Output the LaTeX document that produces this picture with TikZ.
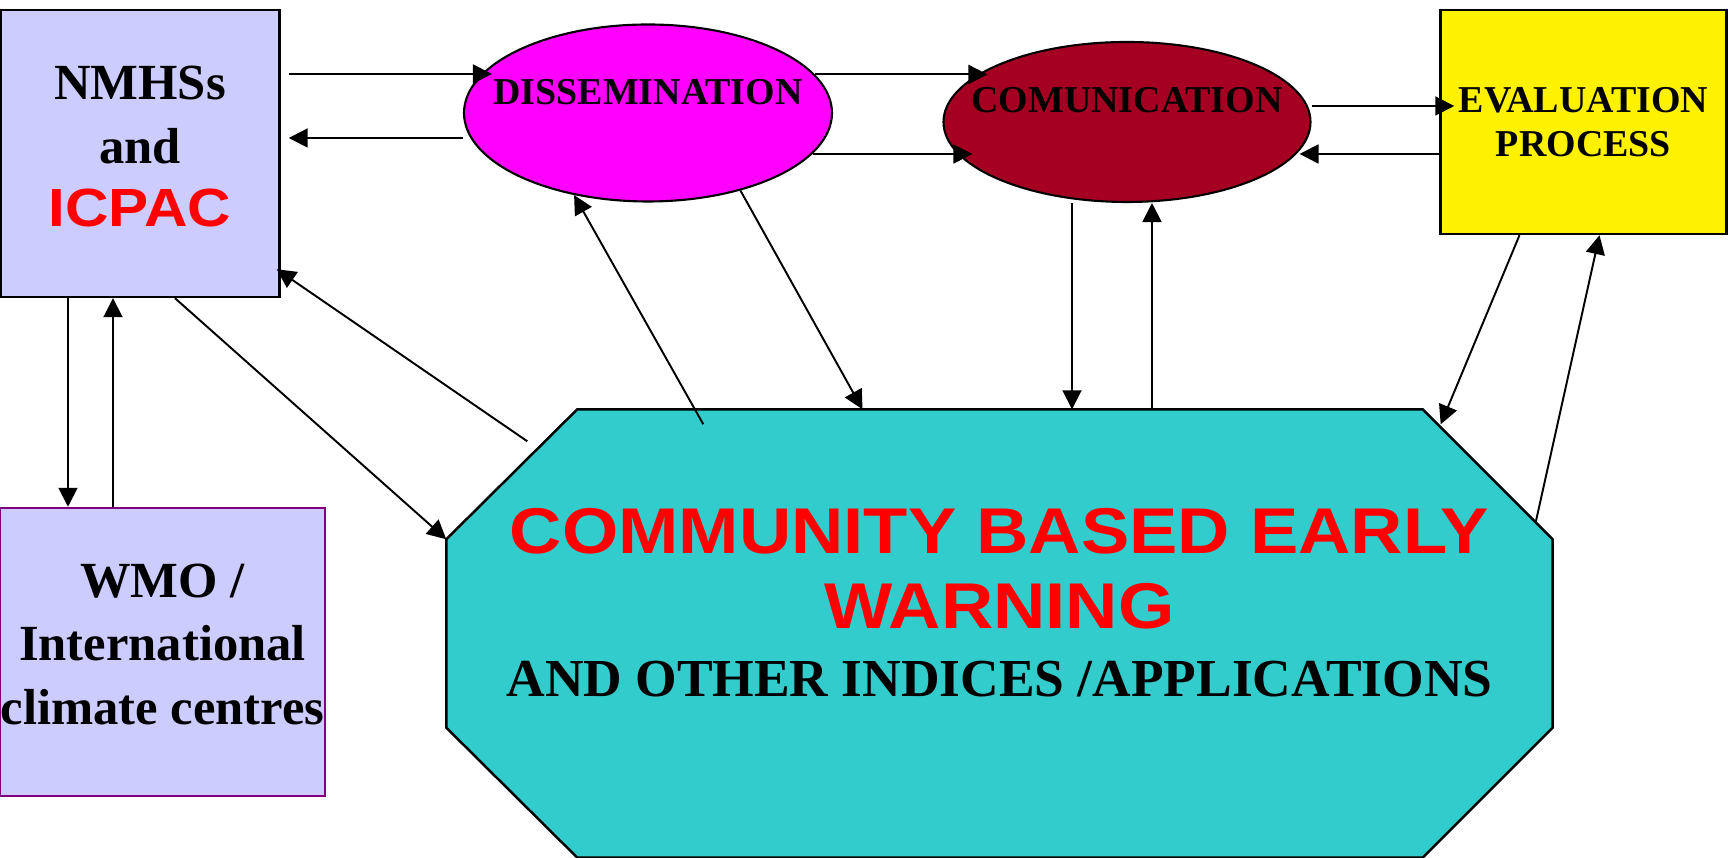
\documentclass[tikz,border=0pt]{standalone}
\usepackage{fontspec}
\setmainfont{Liberation Serif}
\newfontfamily\redsans{Liberation Sans}[FakeStretch=1.12]
\usepackage{tikz}
\usetikzlibrary{arrows.meta,shapes.geometric,backgrounds}
\definecolor{lavender}{HTML}{CCCCFF}
\definecolor{wmoborder}{HTML}{800080}
\definecolor{dissfill}{HTML}{FF00FF}
\definecolor{commfill}{HTML}{A50021}
\definecolor{cbewfill}{HTML}{33CCCC}
\newcommand{\redword}[2]{{\redsans\color{red}\fontsize{#1}{#1}\selectfont #2}}
\tikzset{
  box/.style={rectangle, draw, line width=0.7pt, inner sep=0pt, align=center, font=\bfseries\fontsize{14.4}{18}\selectfont},
  oval/.style={ellipse, draw, line width=0.6pt, inner sep=0pt},
  ovaltext/.style={font=\bfseries\fontsize{10.8}{12.6}\selectfont},
  cbbox/.style={rectangle, inner sep=0pt, minimum width=11.05cm, minimum height=4.47cm},
  cbtext/.style={align=center, font=\bfseries\fontsize{15.2}{19.3}\selectfont},
  fwd/.style={-{Triangle[length=1.9mm, width=1.9mm]}, line width=0.55pt},
}
\begin{document}
\begin{tikzpicture}
  \useasboundingbox (0,0) rectangle (17.28,8.58);

  \node[box, fill=lavender, text depth=1.4mm, minimum width=2.79cm, minimum height=2.87cm] (nmhs) at (1.40,7.045) {NMHSs\\and\\\redword{15.3}{ICPAC}};
  \node[box, fill=lavender, draw=wmoborder, text depth=1.6mm, minimum width=3.25cm, minimum height=2.88cm] (wmo) at (1.625,2.06) {WMO /\\International\\climate centres};
  \node[box, ovaltext, fill=yellow, minimum width=2.86cm, minimum height=2.24cm] (evalbox) at (15.835,7.36) {EVALUATION\\PROCESS};
  \node[oval, fill=dissfill, minimum width=3.68cm, minimum height=1.77cm, label={[ovaltext, yshift=2.1mm]center:DISSEMINATION}] (diss) at (6.48,7.45) {};
  \node[oval, fill=commfill, minimum width=3.67cm, minimum height=1.60cm, label={[ovaltext, yshift=2.2mm]center:COMUNICATION}] (comm) at (11.27,7.36) {};
  \node[cbbox, label={[cbtext, yshift=3.1mm]center:{\redword{18.4}{COMMUNITY BASED EARLY}\\[2.2pt]\redword{18.4}{WARNING}\\AND OTHER INDICES /APPLICATIONS}}] (cbew) at (9.995,2.245) {};

  \begin{scope}[on background layer] % octagon behind its text
    \filldraw[fill=cbewfill, line width=0.7pt] ([xshift=13.1mm]cbew.north west) -- ([xshift=-13mm]cbew.north east) -- ([yshift=-13mm]cbew.north east) -- ([yshift=13mm]cbew.south east) -- ([xshift=-13mm]cbew.south east) -- ([xshift=13.1mm]cbew.south west) -- ([yshift=13mm]cbew.south west) -- ([yshift=-13mm]cbew.north west) -- cycle;
  \end{scope}

  \draw[fwd] ([xshift=0.8mm,yshift=3.9mm]nmhs.east |- diss.west) -- ([xshift=2.9mm,yshift=3.9mm]diss.west);
  \draw[fwd] ([yshift=-2.5mm]diss.west) -- ([xshift=0.8mm,yshift=-2.5mm]nmhs.east |- diss.west);
  \draw[fwd] ([xshift=-7.2mm]nmhs.south) -- ([xshift=-7.2mm]nmhs.south |- wmo.north);
  \draw[fwd] ([xshift=-2.7mm]nmhs.south |- wmo.north) -- ([xshift=-2.7mm]nmhs.south);
  \draw[fwd] ([xshift=3.5mm]nmhs.south) -- ([yshift=-13mm]cbew.north west);
  \draw[fwd] ([xshift=8.1mm,yshift=-3.2mm]cbew.north west) -- ([xshift=-0.4mm,yshift=2.9mm]nmhs.south east);
  \draw[fwd] ([xshift=25.7mm,yshift=-1.5mm]cbew.north west) -- (diss.228);
  \draw[fwd] (diss.320) -- ([xshift=-13.7mm]cbew.north);
  \draw[fwd] (diss.13) -- ([xshift=4.5mm]comm.west |- diss.13);
  \draw[fwd] (diss.346) -- ([xshift=3mm]comm.west |- diss.346);
  \draw[fwd] ([yshift=1.6mm]comm.east) -- ([xshift=1.5mm,yshift=1.6mm]evalbox.west);
  \draw[fwd] ([yshift=-3.2mm]evalbox.west) -- ([xshift=-1.2mm,yshift=-3.2mm]comm.east);
  \draw[fwd] ([xshift=-5.5mm]comm.south) -- ([xshift=-5.5mm]comm.south |- cbew.north);
  \draw[fwd] ([xshift=2.5mm]comm.south |- cbew.north) -- ([xshift=2.5mm]comm.south);
  \draw[fwd] ([xshift=-6.4mm]evalbox.south) -- ([xshift=-11.2mm,yshift=-1.5mm]cbew.north east);
  \draw[fwd] ([xshift=-1.7mm,yshift=-11.3mm]cbew.north east) -- ([xshift=1.6mm]evalbox.south);

\end{tikzpicture}
\end{document}
